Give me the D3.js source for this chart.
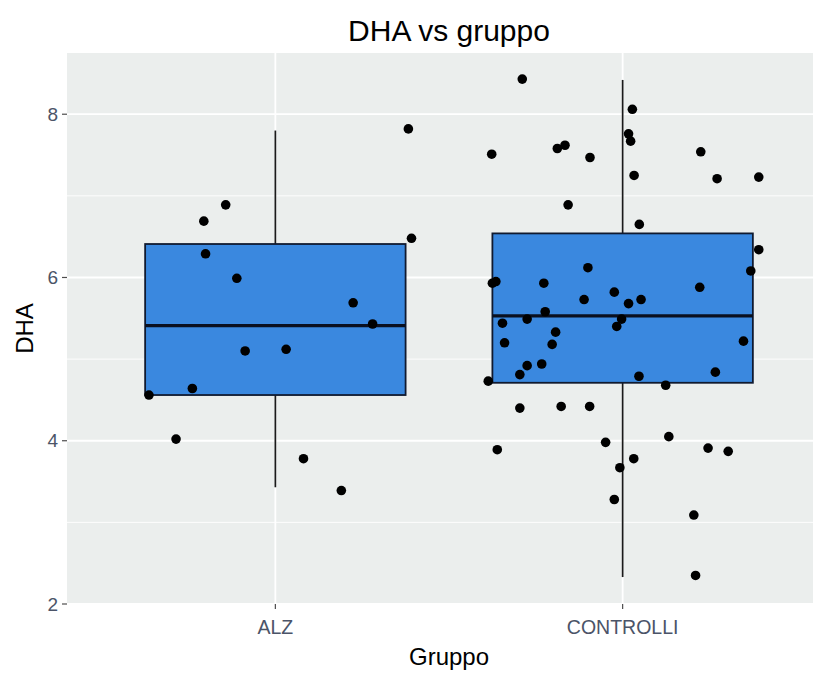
<!DOCTYPE html>
<html>
<head>
<meta charset="utf-8">
<script src="https://cdn.jsdelivr.net/npm/d3@7"></script>
<style>
  html, body { margin: 0; padding: 0; background: #ffffff; }
  svg { display: block; }
  text { font-family: "Liberation Sans", Arial, sans-serif; }
</style>
</head>
<body>
<svg id="chart" width="819" height="675"></svg>
<script>
// Groups and boxplot summaries (DHA)
const groups = ["ALZ", "CONTROLLI"];
const boxLower = [3.43, 2.33];
const boxQ1 = [4.56, 4.71];
const boxMedian = [5.41, 5.53];
const boxQ3 = [6.41, 6.54];
const boxUpper = [7.80, 8.42];

// Individual observations: group index, horizontal jitter (in band steps), DHA value
const pointGroup = [
  0,0,0,0,0,0,0,0,0,0,0,0,0,0,0,
  1,1,1,1,1,1,1,1,1,1,1,1,1,1,1,1,1,1,1,1,1,1,1,1,1,1,1,1,1,1,1,1,1,1,1,1,1,1,1,1,1,1,1,1,1,1,1,1,1,1,1,1,1,1
];
const pointJitter = [
  0.383,-0.143,-0.206,0.392,-0.201,-0.111,0.224,0.280,-0.087,0.031,-0.239,-0.364,-0.286,0.081,0.190,
  -0.289,0.028,0.017,0.023,-0.377,-0.188,-0.166,-0.094,0.225,0.033,0.272,0.392,-0.157,0.048,0.392,0.369,
  -0.100,-0.375,-0.365,-0.227,0.222,-0.111,-0.024,0.017,0.053,-0.223,-0.346,-0.275,-0.003,-0.017,-0.193,
  -0.340,-0.203,0.348,-0.275,-0.233,-0.296,0.267,0.047,-0.387,0.124,-0.296,-0.177,-0.095,-0.361,-0.049,
  0.133,0.246,0.304,0.032,-0.008,-0.024,0.205,0.210
];
const pointValue = [
  7.82,6.89,6.69,6.48,6.29,5.99,5.69,5.43,5.10,5.12,4.64,4.56,4.02,3.78,3.39,
  8.43,8.06,7.76,7.67,7.51,7.58,7.62,7.47,7.54,7.25,7.21,7.23,6.89,6.65,6.34,6.08,
  6.12,5.93,5.95,5.93,5.88,5.73,5.82,5.68,5.73,5.58,5.44,5.49,5.49,5.40,5.33,
  5.20,5.18,5.22,4.92,4.94,4.81,4.84,4.79,4.73,4.68,4.40,4.42,4.42,3.89,3.98,
  4.05,3.91,3.87,3.78,3.67,3.28,3.09,2.35
];
const yTicks = [2, 4, 6, 8];
const yMinor = [3, 5, 7];

const svg = d3.select("#chart");
const panel = { left: 67, right: 831, top: 53, bottom: 604 };

const x = d3.scalePoint().domain(groups)
  .range([panel.left, panel.right]).padding(0.6);
const step = x.step();
const y = d3.scaleLinear().domain([2.0, 8.75]).range([panel.bottom, panel.top]);

// Panel background
svg.append("rect")
  .attr("x", panel.left).attr("y", panel.top)
  .attr("width", 813 - panel.left).attr("height", panel.bottom - panel.top)
  .attr("fill", "#ebeeed");

const grid = svg.append("g");
grid.selectAll(".minor").data(yMinor).join("line")
  .attr("x1", panel.left).attr("x2", 813)
  .attr("y1", d => y(d)).attr("y2", d => y(d))
  .attr("stroke", "#ffffff").attr("stroke-width", 0.9);
grid.selectAll(".major").data(yTicks).join("line")
  .attr("x1", panel.left).attr("x2", 813)
  .attr("y1", d => y(d)).attr("y2", d => y(d))
  .attr("stroke", "#ffffff").attr("stroke-width", 1.8);
grid.selectAll(".vmajor").data(groups).join("line")
  .attr("x1", d => x(d)).attr("x2", d => x(d))
  .attr("y1", panel.top).attr("y2", panel.bottom)
  .attr("stroke", "#ffffff").attr("stroke-width", 1.8);

// Boxplots
const boxW = step * 0.75;
const boxes = svg.append("g").selectAll("g").data(groups).join("g");
boxes.append("line")
  .attr("x1", d => x(d)).attr("x2", d => x(d))
  .attr("y1", (d, i) => y(boxUpper[i])).attr("y2", (d, i) => y(boxQ3[i]))
  .attr("stroke", "#1a1a1a").attr("stroke-width", 1.7);
boxes.append("line")
  .attr("x1", d => x(d)).attr("x2", d => x(d))
  .attr("y1", (d, i) => y(boxQ1[i])).attr("y2", (d, i) => y(boxLower[i]))
  .attr("stroke", "#1a1a1a").attr("stroke-width", 1.7);
boxes.append("rect")
  .attr("x", d => x(d) - boxW / 2).attr("width", boxW)
  .attr("y", (d, i) => y(boxQ3[i]))
  .attr("height", (d, i) => y(boxQ1[i]) - y(boxQ3[i]))
  .attr("fill", "#3a88df").attr("stroke", "#101a30").attr("stroke-width", 1.8);
boxes.append("line")
  .attr("x1", d => x(d) - boxW / 2).attr("x2", d => x(d) + boxW / 2)
  .attr("y1", (d, i) => y(boxMedian[i])).attr("y2", (d, i) => y(boxMedian[i]))
  .attr("stroke", "#0a1020").attr("stroke-width", 3.2);

// Jittered points
const pts = pointValue.map((v, i) => ({ g: groups[pointGroup[i]], j: pointJitter[i], v }));
svg.append("g").selectAll("circle").data(pts).join("circle")
  .attr("cx", d => x(d.g) + d.j * step)
  .attr("cy", d => y(d.v))
  .attr("r", 4.8)
  .attr("fill", "#000000");

// Axes
const yAxis = svg.append("g");
yAxis.selectAll("line").data(yTicks).join("line")
  .attr("x1", panel.left - 5).attr("x2", panel.left)
  .attr("y1", d => y(d)).attr("y2", d => y(d))
  .attr("stroke", "#4d4d4d").attr("stroke-width", 1.2);
yAxis.selectAll("text").data(yTicks).join("text")
  .attr("x", panel.left - 9).attr("y", d => y(d))
  .attr("dy", "0.35em").attr("text-anchor", "end")
  .attr("font-size", 19).attr("fill", "#4b5468")
  .text(d => d);

const xAxis = svg.append("g");
xAxis.selectAll("line").data(groups).join("line")
  .attr("x1", d => x(d)).attr("x2", d => x(d))
  .attr("y1", panel.bottom).attr("y2", panel.bottom + 5)
  .attr("stroke", "#4d4d4d").attr("stroke-width", 1.2);
xAxis.selectAll("text").data(groups).join("text")
  .attr("x", d => x(d)).attr("y", panel.bottom + 30)
  .attr("text-anchor", "middle")
  .attr("font-size", 19.5).attr("fill", "#4b5468")
  .text(d => d);

// Titles
const midX = (panel.left + panel.right) / 2;
svg.append("text").attr("x", midX).attr("y", 41)
  .attr("text-anchor", "middle").attr("font-size", 30).attr("fill", "#000")
  .text("DHA vs gruppo");
svg.append("text").attr("x", midX).attr("y", 665)
  .attr("text-anchor", "middle").attr("font-size", 24).attr("fill", "#000")
  .text("Gruppo");
svg.append("text")
  .attr("transform", `translate(33, ${(panel.top + panel.bottom) / 2}) rotate(-90)`)
  .attr("text-anchor", "middle").attr("font-size", 24).attr("fill", "#000")
  .text("DHA");
</script>
</body>
</html>
